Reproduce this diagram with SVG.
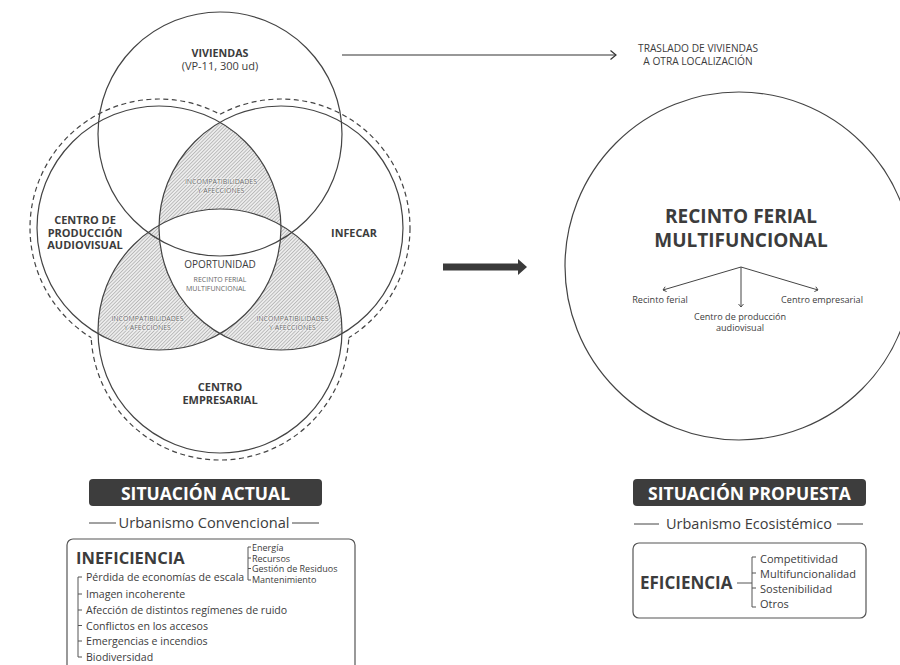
<svg xmlns="http://www.w3.org/2000/svg" width="900" height="665" viewBox="0 0 900 665">
<style>
text{font-family:"Open Sans","Liberation Sans",sans-serif;fill:#3c3c3c}
.b{font-weight:bold}
.c{text-anchor:middle}
.sm{font-size:7px;fill:#666;stroke:#fff;stroke-width:1.2;stroke-opacity:.7;paint-order:stroke}
.ln{fill:none;stroke:#444;stroke-width:1.2}
.ds{fill:none;stroke:#444;stroke-width:1.2;stroke-dasharray:5 3.5}
.th{fill:none;stroke:#555;stroke-width:1}
</style>
<defs>
<pattern id="hatch" width="2.5" height="2.5" patternUnits="userSpaceOnUse" patternTransform="rotate(45)">
<rect width="2.5" height="2.5" fill="#ececec"/>
<line x1="0" y1="0" x2="0" y2="2.5" stroke="#7a7a7a" stroke-width="0.8"/>
</pattern>
<clipPath id="cL"><circle cx="159" cy="228" r="122"/></clipPath>
<clipPath id="cR"><circle cx="281" cy="228" r="122"/></clipPath>
<clipPath id="cB"><circle cx="220" cy="331" r="122"/></clipPath>
<mask id="mNoB" maskUnits="userSpaceOnUse" x="0" y="0" width="900" height="665"><rect width="900" height="665" fill="#fff"/><circle cx="220" cy="331" r="122" fill="#000"/></mask>
<mask id="mNoR" maskUnits="userSpaceOnUse" x="0" y="0" width="900" height="665"><rect width="900" height="665" fill="#fff"/><circle cx="281" cy="228" r="122" fill="#000"/></mask>
<mask id="mNoL" maskUnits="userSpaceOnUse" x="0" y="0" width="900" height="665"><rect width="900" height="665" fill="#fff"/><circle cx="159" cy="228" r="122" fill="#000"/></mask>
<mask id="dL" maskUnits="userSpaceOnUse" x="0" y="0" width="900" height="665"><rect width="900" height="665" fill="#fff"/><circle cx="281" cy="228" r="129" fill="#000"/><circle cx="220" cy="331" r="129" fill="#000"/></mask>
<mask id="dR" maskUnits="userSpaceOnUse" x="0" y="0" width="900" height="665"><rect width="900" height="665" fill="#fff"/><circle cx="159" cy="228" r="129" fill="#000"/><circle cx="220" cy="331" r="129" fill="#000"/></mask>
<mask id="dB" maskUnits="userSpaceOnUse" x="0" y="0" width="900" height="665"><rect width="900" height="665" fill="#fff"/><circle cx="159" cy="228" r="129" fill="#000"/><circle cx="281" cy="228" r="129" fill="#000"/></mask>
<marker id="chev" markerUnits="userSpaceOnUse" markerWidth="10" markerHeight="12" refX="6" refY="5" orient="auto"><path d="M0.5,0.5 L6,5 L0.5,9.5" fill="none" stroke="#333" stroke-width="1.2"/></marker>
<marker id="small" markerUnits="userSpaceOnUse" markerWidth="8" markerHeight="8" refX="4" refY="3" orient="auto"><path d="M1,0.5 L4,3 L1,5.5" fill="none" stroke="#444" stroke-width="0.9"/></marker>
<marker id="big" markerUnits="userSpaceOnUse" markerWidth="12" markerHeight="18" refX="0" refY="8" orient="auto"><path d="M0,0 L9,8 L0,16 Z" fill="#3a3a3a"/></marker>
</defs>

<rect width="900" height="665" fill="#fff"/>

<g id="venn">
<g id="hatch-top" clip-path="url(#cL)"><g clip-path="url(#cR)"><rect width="900" height="665" fill="url(#hatch)" mask="url(#mNoB)"/></g></g>
<g id="hatch-left" clip-path="url(#cL)"><g clip-path="url(#cB)"><rect width="900" height="665" fill="url(#hatch)" mask="url(#mNoR)"/></g></g>
<g id="hatch-right" clip-path="url(#cR)"><g clip-path="url(#cB)"><rect width="900" height="665" fill="url(#hatch)" mask="url(#mNoL)"/></g></g>
<g id="dashed-outline">
<circle class="ds" cx="159" cy="228" r="129" mask="url(#dL)"/>
<circle class="ds" cx="281" cy="228" r="129" mask="url(#dR)"/>
<circle class="ds" cx="220" cy="331" r="129" mask="url(#dB)"/>
</g>
<g id="viviendas">
<circle class="ln" cx="220" cy="134" r="122"/>
<text class="b c" x="220" y="57" font-size="10.7">VIVIENDAS</text>
<text class="c" x="220" y="70" font-size="11" fill="#555">(VP-11, 300 ud)</text>
</g>
<g id="produccion">
<circle class="ln" cx="159" cy="228" r="122"/>
<text class="b c" x="85" y="224" font-size="11">CENTRO DE</text>
<text class="b c" x="85" y="236.5" font-size="11">PRODUCCIÓN</text>
<text class="b c" x="85" y="249" font-size="11">AUDIOVISUAL</text>
</g>
<g id="infecar">
<circle class="ln" cx="281" cy="228" r="122"/>
<text class="b c" x="354" y="237" font-size="10.8">INFECAR</text>
</g>
<g id="empresarial">
<circle class="ln" cx="220" cy="331" r="122"/>
<text class="b c" x="220" y="391" font-size="11">CENTRO</text>
<text class="b c" x="220" y="404" font-size="11">EMPRESARIAL</text>
</g>
<g id="incomp-top">
<text class="sm c" x="221" y="184">INCOMPATIBILIDADES</text>
<text class="sm c" x="221" y="193">Y AFECCIONES</text>
</g>
<g id="incomp-left">
<text class="sm c" x="147.5" y="321">INCOMPATIBILIDADES</text>
<text class="sm c" x="147.5" y="330">Y AFECCIONES</text>
</g>
<g id="incomp-right">
<text class="sm c" x="292.5" y="321">INCOMPATIBILIDADES</text>
<text class="sm c" x="292.5" y="330">Y AFECCIONES</text>
</g>
<g id="oportunidad">
<text class="c" x="220" y="268" font-size="10" fill="#555">OPORTUNIDAD</text>
<text class="sm c" x="220" y="282">RECINTO FERIAL</text>
<text class="sm c" x="216" y="291">MULTIFUNCIONAL</text>
</g>
</g>

<g id="traslado">
<text class="c" x="698" y="52" font-size="10.2">TRASLADO DE VIVIENDAS</text>
<text class="c" x="698" y="64.5" font-size="10.2">A OTRA LOCALIZACIÓN</text>
</g>

<g id="propuesta">
<circle class="ln" cx="739" cy="266" r="174"/>
<text class="b c" x="741" y="223" font-size="19" fill="#3a3a3a">RECINTO FERIAL</text>
<text class="b c" x="741" y="247" font-size="19" fill="#3a3a3a">MULTIFUNCIONAL</text>
</g>
<g id="t-recinto"><text class="c" x="660" y="303" font-size="9.1" fill="#555">Recinto ferial</text></g>
<g id="t-produccion">
<text class="c" x="740" y="320" font-size="9.1" fill="#555">Centro de producción</text>
<text class="c" x="740" y="331" font-size="9.1" fill="#555">audiovisual</text>
</g>
<g id="t-empresarial"><text class="c" x="822" y="303" font-size="9.1" fill="#555">Centro empresarial</text></g>

<g id="connectors">
<line x1="342" y1="55" x2="616" y2="55" stroke="#333" stroke-width="1.2" marker-end="url(#chev)"/>
<line x1="443" y1="267" x2="518" y2="267" stroke="#3a3a3a" stroke-width="7" marker-end="url(#big)"/>
<line x1="741" y1="267" x2="663" y2="290" stroke="#444" stroke-width="1" marker-end="url(#small)"/>
<line x1="741" y1="267" x2="741" y2="307" stroke="#444" stroke-width="1" marker-end="url(#small)"/>
<line x1="741" y1="267" x2="818" y2="290" stroke="#444" stroke-width="1" marker-end="url(#small)"/>
</g>

<g id="actual">
<rect x="89" y="479" width="233" height="27" rx="4" fill="#3d3d3d"/>
<text class="b c" x="205.5" y="499.5" font-size="17.5" style="fill:#fff">SITUACIÓN ACTUAL</text>
<line x1="89" y1="523" x2="116" y2="523" stroke="#444" stroke-width="1"/>
<text class="c" x="204" y="528" font-size="14.6">Urbanismo Convencional</text>
<line x1="292" y1="523" x2="319" y2="523" stroke="#444" stroke-width="1"/>
</g>
<g id="ineficiencia">
<rect x="67" y="539" width="288" height="140" rx="6" fill="none" stroke="#555" stroke-width="1.2"/>
<text class="b" x="76" y="564" font-size="16.5">INEFICIENCIA</text>
<path class="th" d="M251,547 H248 V580 H251 M248,558 H251 M248,568.5 H251"/>
<text x="252" y="551" font-size="9" fill="#555">Energía</text>
<text x="252" y="561.5" font-size="9" fill="#555">Recursos</text>
<text x="252" y="572" font-size="9" fill="#555">Gestión de Residuos</text>
<text x="252" y="582.5" font-size="9" fill="#555">Mantenimiento</text>
<path class="th" d="M82,577 H78 V657 H82 M78,594 H82 M78,610 H82 M78,625.5 H82 M78,641 H82"/>
<text x="86" y="581" font-size="10.6">Pérdida de economías de escala</text>
<text x="86" y="598" font-size="10.6">Imagen incoherente</text>
<text x="86" y="614" font-size="10.6">Afección de distintos regímenes de ruido</text>
<text x="86" y="629.5" font-size="10.6">Conflictos en los accesos</text>
<text x="86" y="645" font-size="10.6">Emergencias e incendios</text>
<text x="86" y="660.5" font-size="10.6">Biodiversidad</text>
</g>

<g id="propuesta-label">
<rect x="633" y="479" width="233" height="27" rx="4" fill="#3d3d3d"/>
<text class="b c" x="749.5" y="499.5" font-size="17.5" style="fill:#fff">SITUACIÓN PROPUESTA</text>
<line x1="634" y1="524" x2="659" y2="524" stroke="#444" stroke-width="1"/>
<text class="c" x="749" y="529" font-size="14.5">Urbanismo Ecosistémico</text>
<line x1="837" y1="524" x2="863" y2="524" stroke="#444" stroke-width="1"/>
</g>
<g id="eficiencia">
<rect x="633" y="543" width="233" height="75" rx="6" fill="none" stroke="#555" stroke-width="1.2"/>
<text class="b" x="640" y="589" font-size="17">EFICIENCIA</text>
<path class="th" d="M737,583 H752 M756,557 H752 V607 H756 M752,573 H756 M752,588 H756"/>
<text x="760" y="563" font-size="11">Competitividad</text>
<text x="760" y="577.5" font-size="11">Multifuncionalidad</text>
<text x="760" y="592.5" font-size="11">Sostenibilidad</text>
<text x="760" y="608" font-size="11">Otros</text>
</g>
</svg>
